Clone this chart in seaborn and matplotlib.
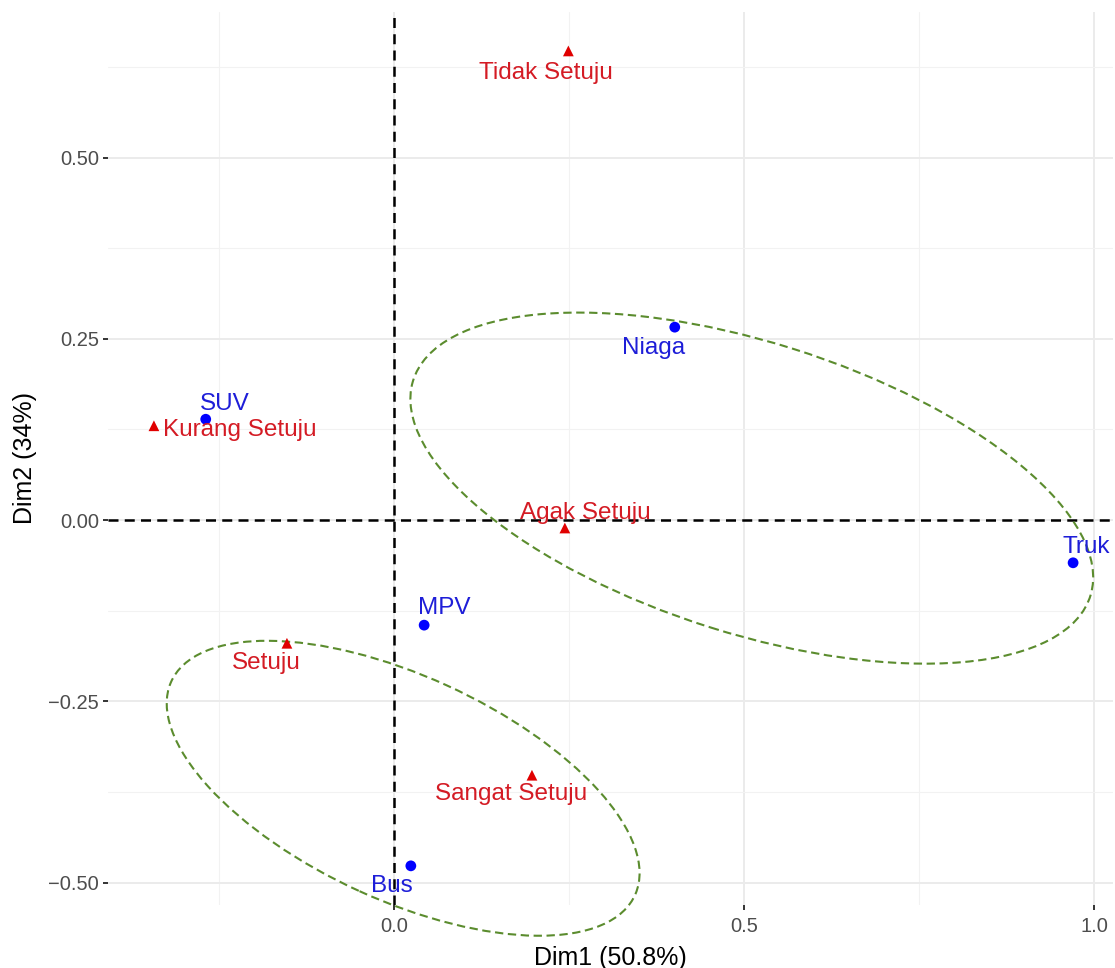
import numpy as np
import pandas as pd
import seaborn as sns
import matplotlib.pyplot as plt
from matplotlib.patches import Ellipse

sns.set_theme(style="whitegrid")
plt.rcParams["font.family"] = ["Liberation Sans", "DejaVu Sans"]

# row points (response categories)
row_names = ["Tidak Setuju", "Kurang Setuju", "Agak Setuju", "Setuju", "Sangat Setuju"]
row_dim1 = [0.249, -0.343, 0.244, -0.153, 0.197]
row_dim2 = [0.647, 0.130, -0.011, -0.170, -0.352]

# column points (vehicle types)
col_names = ["SUV", "Niaga", "Truk", "MPV", "Bus"]
col_dim1 = [-0.269, 0.401, 0.970, 0.043, 0.024]
col_dim2 = [0.139, 0.266, -0.059, -0.145, -0.477]

# cluster ellipses: centre, full width / height, angle (degrees)
ell_x = [0.511, 0.013]
ell_y = [0.044, -0.370]
ell_w = [1.012, 0.725]
ell_h = [0.402, 0.310]
ell_angle = [-16.9, -23.7]

x_title = "Dim1 (50.8%)"
y_title = "Dim2 (34%)"

# label offsets in pixels (dx right, dy down)
label_offset = {
    "Tidak Setuju": (-22, 22), "Kurang Setuju": (86, 4), "Agak Setuju": (20, -15),
    "Setuju": (-21, 20), "Sangat Setuju": (-21, 19),
    "SUV": (19, -15), "Niaga": (-21, 21), "Truk": (13, -16),
    "MPV": (20, -17), "Bus": (-19, 20),
}

df = pd.DataFrame({
    "Dim1": row_dim1 + col_dim1,
    "Dim2": row_dim2 + col_dim2,
    "name": row_names + col_names,
    "kind": ["row"] * len(row_names) + ["col"] * len(col_names),
})

W, H = 1115, 968
fig = plt.figure(figsize=(W / 100, H / 100), dpi=100)
ax = fig.add_axes([108 / W, 1 - 905 / H, (1113 - 108) / W, (905 - 12) / H])
ax.set_facecolor("white")
for s in ax.spines.values():
    s.set_visible(False)

ax.set_xlim(-0.4086, 1.027)
ax.set_ylim(-0.531, 0.7007)

ax.set_xticks([0.0, 0.5, 1.0])
ax.set_xticklabels(["0.0", "0.5", "1.0"])
ax.set_xticks([-0.25, 0.25, 0.75], minor=True)
ax.set_yticks([-0.5, -0.25, 0.0, 0.25, 0.5])
ax.set_yticklabels(["\u22120.50", "\u22120.25", "0.00", "0.25", "0.50"])
ax.set_yticks([-0.375, -0.125, 0.125, 0.375, 0.625], minor=True)

ax.grid(which="major", color="#EBEBEB", linewidth=1.4)
ax.grid(which="minor", color="#F2F2F2", linewidth=0.8)
ax.tick_params(which="major", bottom=True, left=True, length=3.6, width=1.4,
               color="#333333", labelsize=14.5, labelcolor="#4D4D4D", pad=3)
ax.tick_params(axis="x", which="major", pad=5)
ax.tick_params(which="minor", length=0)
ax.set_axisbelow(True)

ax.axhline(0, color="black", linestyle=(0, (4, 2.5)), linewidth=1.8, zorder=2)
ax.axvline(0, color="black", linestyle=(0, (4, 2.5)), linewidth=1.8, zorder=2)

for cx, cy, w, h, a in zip(ell_x, ell_y, ell_w, ell_h, ell_angle):
    e = Ellipse((cx, cy), w, h, angle=a, fill=False, edgecolor="#5B8C2E",
                linestyle=(0, (4, 2.2)), linewidth=1.5, zorder=3, clip_on=False)
    ax.add_patch(e)

sns.scatterplot(data=df, x="Dim1", y="Dim2", hue="kind", style="kind",
                palette={"row": "#E00000", "col": "#0000FF"},
                markers={"row": "^", "col": "o"}, s=60, linewidth=0,
                legend=False, ax=ax, zorder=4)

text_color = {"row": "#D41B24", "col": "#1E1ED8"}
for _, r in df.iterrows():
    dx, dy = label_offset[r["name"]]
    ax.annotate(r["name"], (r["Dim1"], r["Dim2"]), xytext=(dx * 0.72, -dy * 0.72),
                textcoords="offset points", ha="center", va="center",
                fontsize=17.5, color=text_color[r["kind"]], zorder=5)

ax.set_xlabel(x_title, fontsize=18, color="black", labelpad=7)
ax.set_ylabel(y_title, fontsize=18, color="black", labelpad=8)

fig.savefig("out.png", dpi=100)
